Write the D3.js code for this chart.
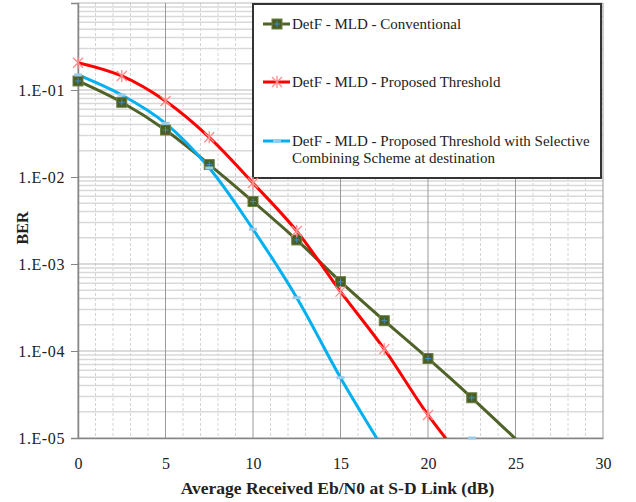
<!DOCTYPE html>
<html>
<head>
<meta charset="utf-8">
<script src="https://cdn.jsdelivr.net/npm/d3@7"></script>
<style>
  body { margin: 0; background: #fff; }
  svg text { font-family: "Liberation Serif", "DejaVu Serif", serif; fill: #222; }
</style>
</head>
<body>
<div id="chart"></div>
<script>
// data
var snrDb = [0, 2.5, 5, 7.5, 10, 12.5, 15, 17.5, 20, 22.5, 25];
var berConventional = [0.127, 0.0722, 0.0347, 0.0139, 0.00523, 0.00189, 0.000626, 0.000223, 0.000082, 0.000029, 0.0000098];
var berProposed = [0.206, 0.145, 0.0747, 0.0286, 0.00853, 0.00239, 0.000481, 0.000105, 0.0000184, 0.0000042, null];
var berSelective = [0.149, 0.0876, 0.0414, 0.0127, 0.00251, 0.00041, 0.0000493, 0.0000072, null, 0.00001, null];
var seriesNames = [
  "DetF - MLD - Conventional",
  "DetF - MLD - Proposed Threshold",
  "DetF - MLD - Proposed Threshold with Selective|Combining Scheme at destination"
];
var xTicks = [0, 5, 10, 15, 20, 25, 30];
var yTicks = [1e-5, 1e-4, 1e-3, 1e-2, 1e-1];
var yTickLabels = ["1.E-05", "1.E-04", "1.E-03", "1.E-02", "1.E-01"];

var serif = "'Liberation Serif', 'DejaVu Serif', serif";

var margin = {top: 3, right: 33, bottom: 64, left: 78},
    width = 636 - margin.left - margin.right,
    height = 502 - margin.top - margin.bottom;

var svg = d3.select("#chart")
  .append("svg")
    .attr("width", 636)
    .attr("height", 502)
  .append("g")
    .attr("transform", "translate(" + margin.left + "," + margin.top + ")");

var X = d3.scaleLinear().domain([0, 30]).range([0, width]);
var Y = d3.scaleLog().domain([1e-5, 1]).range([height, 0]);

svg.append("clipPath").attr("id", "plotclip")
  .append("rect").attr("width", width).attr("height", height);

// minor gridlines, horizontal (2..9 in each decade)
var minorY = [];
for (var e = -5; e < 0; e++) {
  for (var m = 2; m <= 9; m++) minorY.push(m * Math.pow(10, e));
}
svg.selectAll(".hminor").data(minorY).enter().append("line")
    .attr("x1", 0).attr("x2", width)
    .attr("y1", function(d) { return Y(d); })
    .attr("y2", function(d) { return Y(d); })
    .attr("stroke", "#d9d9d9").attr("stroke-width", 1.5);

// minor gridlines, vertical (every 1 dB)
var minorX = d3.range(1, 30).filter(function(d) { return d % 5 != 0; });
svg.selectAll(".vminor").data(minorX).enter().append("line")
    .attr("x1", function(d) { return X(d); })
    .attr("x2", function(d) { return X(d); })
    .attr("y1", 0).attr("y2", height)
    .attr("stroke", "#d4d4d4").attr("stroke-width", 1)
    .attr("stroke-dasharray", "3,2");

// major gridlines
svg.selectAll(".hmajor").data(yTicks.concat([1])).enter().append("line")
    .attr("x1", 0).attr("x2", width)
    .attr("y1", function(d) { return Y(d); })
    .attr("y2", function(d) { return Y(d); })
    .attr("stroke", "#b8b8b8").attr("stroke-width", 1.2);
svg.selectAll(".vmajor").data(xTicks).enter().append("line")
    .attr("x1", function(d) { return X(d); })
    .attr("x2", function(d) { return X(d); })
    .attr("y1", 0).attr("y2", height)
    .attr("stroke", "#9a9a9a").attr("stroke-width", 1);

// axes
var yAxis = svg.append("g")
    .call(d3.axisLeft(Y).tickValues(yTicks)
      .tickFormat(function(d, i) { return yTickLabels[i]; })
      .tickSizeOuter(0).tickSize(7).tickPadding(6));
yAxis.attr("font-family", null);
yAxis.select(".domain").attr("stroke", "#868686").attr("stroke-width", 1.5);
yAxis.selectAll(".tick line").attr("stroke", "#868686");
yAxis.selectAll("text")
    .style("font-family", serif).style("font-size", "16px")
    .style("letter-spacing", "0.6px").attr("fill", "#222");

var xAxis = svg.append("g")
    .attr("transform", "translate(0," + height + ")")
    .call(d3.axisBottom(X).tickValues(xTicks).tickSize(0).tickPadding(20).tickSizeOuter(0));
xAxis.attr("font-family", null);
xAxis.select(".domain").attr("stroke", "#868686").attr("stroke-width", 1.5);
xAxis.selectAll("text")
    .style("font-family", serif).style("font-size", "16px").attr("fill", "#222");

// legend box sits inside the plot, drawn before curves
var legendX = 253 - margin.left, legendY = 4 - margin.top;
svg.append("rect")
    .attr("x", legendX).attr("y", legendY)
    .attr("width", 348).attr("height", 174)
    .attr("fill", "#fff")
    .attr("stroke", "#333").attr("stroke-width", 2);

var series = [
  {values: berConventional, color: "#4f6228", marker: "square"},
  {values: berProposed, color: "#ff0000", marker: "star"},
  {values: berSelective, color: "#00b0f0", marker: "dash"}
];

var line = d3.line()
    .defined(function(d) { return d[1] != null; })
    .x(function(d) { return X(d[0]); })
    .y(function(d) { return Y(d[1]); })
    .curve(d3.curveCatmullRom.alpha(0.5));

function drawMarker(g, kind, x, y) {
  if (kind == "square") {
    g.append("rect").attr("x", x - 5).attr("y", y - 5).attr("width", 10).attr("height", 10)
      .attr("fill", "#4a5d22").attr("stroke", "#6e7f45").attr("stroke-width", 1);
    g.append("path").attr("d", "M" + (x - 3) + "," + y + "H" + (x + 3) + "M" + x + "," + (y - 3) + "V" + (y + 3))
      .attr("stroke", "#3d8ec9").attr("stroke-width", 1);
  } else if (kind == "star") {
    g.append("path")
      .attr("d", "M" + (x - 5) + "," + (y - 5) + "L" + (x + 5) + "," + (y + 5) +
                 "M" + (x - 5) + "," + (y + 5) + "L" + (x + 5) + "," + (y - 5) +
                 "M" + x + "," + (y - 6) + "V" + (y + 6))
      .attr("stroke", "#ff8a8a").attr("stroke-width", 1.3);
  } else {
    g.append("rect").attr("x", x - 4).attr("y", y - 1.5).attr("width", 8).attr("height", 3)
      .attr("fill", "#9ccbea");
  }
}

var plot = svg.append("g").attr("clip-path", "url(#plotclip)");
series.forEach(function(s) {
  var pts = snrDb.map(function(x, i) { return [x, s.values[i]]; });
  plot.append("path")
      .datum(pts)
      .attr("d", line)
      .attr("fill", "none")
      .attr("stroke", s.color)
      .attr("stroke-width", 3)
      .attr("stroke-linejoin", "round");
});
series.forEach(function(s) {
  var g = svg.append("g");
  snrDb.forEach(function(x, i) {
    var v = s.values[i];
    if (v != null && v >= 1e-5) drawMarker(g, s.marker, X(x), Y(v));
  });
});

// legend entries
var legendRows = [24, 82, 141];
series.forEach(function(s, i) {
  var y = legendRows[i] - margin.top;
  var g = svg.append("g");
  g.append("line")
    .attr("x1", 263 - margin.left).attr("x2", 290 - margin.left)
    .attr("y1", y).attr("y2", y)
    .attr("stroke", s.color).attr("stroke-width", 3);
  drawMarker(g, s.marker, 277 - margin.left, y);
  var parts = seriesNames[i].split("|");
  parts.forEach(function(p, k) {
    g.append("text")
      .attr("x", 292 - margin.left)
      .attr("y", y + 5 + k * 17)
      .style("font-family", serif)
      .style("font-size", "15px")
      .text(p);
  });
});

// axis titles
svg.append("text")
  .attr("text-anchor", "middle")
  .attr("x", X(15) - 3)
  .attr("y", height + 56)
  .style("font-family", serif)
  .style("font-size", "17.5px")
  .style("font-weight", "bold")
  .text("Average Received Eb/N0 at S-D Link (dB)");

svg.append("text")
  .attr("text-anchor", "middle")
  .attr("transform", "translate(" + (28 - margin.left) + "," + (228 - margin.top) + ") rotate(-90)")
  .style("font-family", serif)
  .style("font-size", "16px")
  .style("font-weight", "bold")
  .text("BER");
</script>
</body>
</html>
